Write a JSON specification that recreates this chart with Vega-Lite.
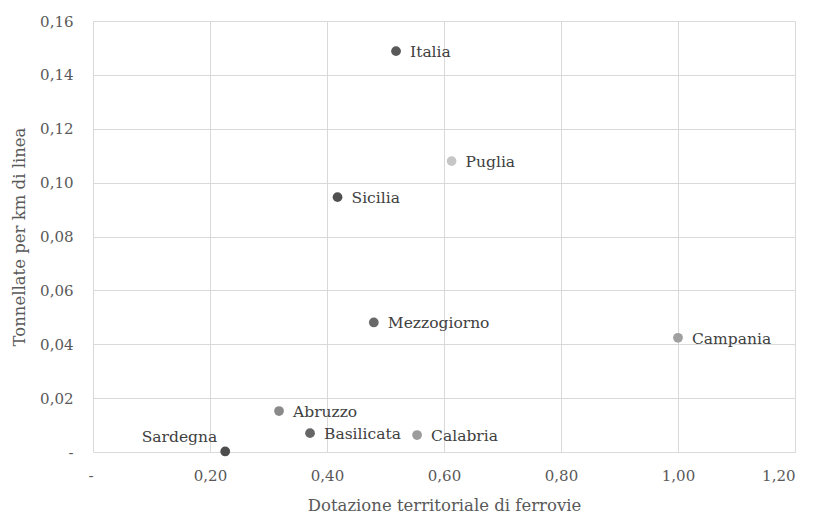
{
  "$schema": "https://vega.github.io/schema/vega-lite/v6.json",
  "autosize": "none",
  "width": 702,
  "height": 431,
  "padding": {"left": 93, "top": 21, "right": 18, "bottom": 65},
  "background": "white",
  "config": {
    "view": {"stroke": null},
    "font": "DejaVu Serif",
    "axis": {
      "labelFont": "DejaVu Serif",
      "titleFont": "DejaVu Serif",
      "labelFontSize": 15,
      "titleFontSize": 16.5,
      "labelColor": "#595959",
      "titleColor": "#595959",
      "titleFontWeight": "normal",
      "gridColor": "#d9d9d9",
      "gridWidth": 1,
      "domain": false,
      "ticks": false
    }
  },
  "data": {
    "values": [
      {"regione": "Italia", "x": 0.518, "y": 0.1488, "colore": "#595959", "pos": "right"},
      {"regione": "Puglia", "x": 0.613, "y": 0.1080, "colore": "#c6c6c6", "pos": "right"},
      {"regione": "Sicilia", "x": 0.418, "y": 0.0946, "colore": "#505050", "pos": "right"},
      {"regione": "Mezzogiorno", "x": 0.480, "y": 0.0481, "colore": "#696969", "pos": "right"},
      {"regione": "Campania", "x": 1.000, "y": 0.0424, "colore": "#a0a0a0", "pos": "right"},
      {"regione": "Abruzzo", "x": 0.318, "y": 0.0152, "colore": "#8a8a8a", "pos": "right"},
      {"regione": "Basilicata", "x": 0.371, "y": 0.0070, "colore": "#666666", "pos": "right"},
      {"regione": "Calabria", "x": 0.554, "y": 0.0063, "colore": "#9c9c9c", "pos": "right"},
      {"regione": "Sardegna", "x": 0.226, "y": 0.0002, "colore": "#4d4d4d", "pos": "left"}
    ]
  },
  "encoding": {
    "x": {
      "field": "x",
      "type": "quantitative",
      "scale": {"domain": [0, 1.2], "nice": false, "zero": false},
      "axis": {
        "title": "Dotazione territoriale di ferrovie",
        "values": [0, 0.2, 0.4, 0.6, 0.8, 1.0, 1.2],
        "labelExpr": "datum.value == 0 ? '-' : replace(format(datum.value, '.2f'), '.', ',')",
        "labelPadding": 16,
        "titlePadding": 14,
        "labelAlign": {"condition": {"test": "datum.value == 0 || datum.value > 1.1", "value": "right"}, "value": "center"}
      }
    },
    "y": {
      "field": "y",
      "type": "quantitative",
      "scale": {"domain": [0, 0.16], "nice": false},
      "axis": {
        "title": "Tonnellate per km di linea",
        "values": [0, 0.02, 0.04, 0.06, 0.08, 0.1, 0.12, 0.14, 0.16],
        "labelExpr": "datum.value == 0 ? '-' : replace(format(datum.value, '.2f'), '.', ',')",
        "labelPadding": 20,
        "titlePadding": 12
      }
    }
  },
  "layer": [
    {
      "mark": {"type": "point", "filled": true, "size": 95, "opacity": 1},
      "encoding": {
        "color": {"field": "colore", "type": "nominal", "scale": null}
      }
    },
    {
      "transform": [{"filter": "datum.pos == 'right'"}],
      "mark": {"type": "text", "align": "left", "baseline": "middle", "dx": 14, "dy": 1, "fontSize": 15.5, "color": "#404040", "font": "DejaVu Serif"},
      "encoding": {"text": {"field": "regione"}}
    },
    {
      "transform": [{"filter": "datum.pos == 'left'"}],
      "mark": {"type": "text", "align": "right", "baseline": "middle", "dx": -8, "dy": -14, "fontSize": 15.5, "color": "#404040", "font": "DejaVu Serif"},
      "encoding": {"text": {"field": "regione"}}
    }
  ]
}
